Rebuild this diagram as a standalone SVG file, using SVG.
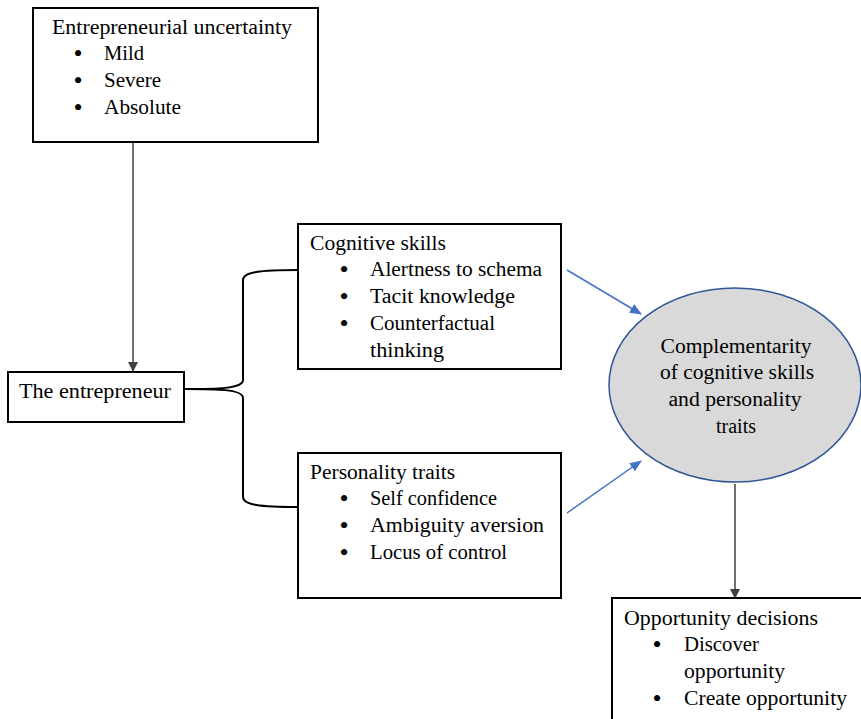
<svg xmlns="http://www.w3.org/2000/svg" width="861" height="719" viewBox="0 0 861 719">
<style>
text{font-family:"Liberation Serif","Times New Roman",serif;font-size:20px;fill:#000}
text.b{font-size:26px;text-anchor:middle}
.box{fill:#fff;stroke:#000;stroke-width:2}
.c{text-anchor:middle}
.gray{stroke:#404040;stroke-width:1.5;fill:none}
.blue{stroke:#4472c4;stroke-width:1.5;fill:none}
.brace{stroke:#000;stroke-width:2;fill:none}
</style>
<defs>
<marker id="ag" markerWidth="10" markerHeight="10" refX="9" refY="5" orient="auto" markerUnits="userSpaceOnUse"><path d="M0,0 L10,5 L0,10 z" fill="#404040"/></marker>
<marker id="ab" markerWidth="12" markerHeight="10" refX="11" refY="5" orient="auto" markerUnits="userSpaceOnUse"><path d="M0,0 L12,5 L0,10 z" fill="#4472c4"/></marker>
</defs>
<g id="connectors">
<line class="gray" x1="133" y1="143" x2="133" y2="371" marker-end="url(#ag)"/>
<path class="brace" d="M185,389 C215,389 243,389 243,380 L243,280 C243,272 260,270 298,270"/>
<path class="brace" d="M185,389 C215,389 243,389 243,398 L243,497 C243,505 260,507 298,507"/>
<line class="blue" x1="567" y1="270" x2="641" y2="314" marker-end="url(#ab)"/>
<line class="blue" x1="567" y1="513" x2="641" y2="461" marker-end="url(#ab)"/>
<line class="gray" x1="735" y1="484" x2="735" y2="598" marker-end="url(#ag)"/>
</g>
<g id="uncertainty">
<rect class="box" x="33" y="8" width="285" height="134"/>
<text x="52" y="34" textLength="240" lengthAdjust="spacingAndGlyphs">Entrepreneurial uncertainty</text>
<text class="b" x="78" y="62">•</text><text x="104" y="60" textLength="40" lengthAdjust="spacingAndGlyphs">Mild</text>
<text class="b" x="78" y="89">•</text><text x="104" y="87" textLength="57" lengthAdjust="spacingAndGlyphs">Severe</text>
<text class="b" x="78" y="116">•</text><text x="104" y="114" textLength="77" lengthAdjust="spacingAndGlyphs">Absolute</text>
</g>
<g id="entrepreneur">
<rect class="box" x="8" y="372" width="176" height="50"/>
<text x="19" y="398" textLength="152" lengthAdjust="spacingAndGlyphs">The entrepreneur</text>
</g>
<g id="cognitive">
<rect class="box" x="298" y="224" width="263" height="145"/>
<text x="310" y="250" textLength="136" lengthAdjust="spacingAndGlyphs">Cognitive skills</text>
<text class="b" x="344" y="278">•</text><text x="370" y="276" textLength="172" lengthAdjust="spacingAndGlyphs">Alertness to schema</text>
<text class="b" x="344" y="305">•</text><text x="370" y="303" textLength="145" lengthAdjust="spacingAndGlyphs">Tacit knowledge</text>
<text class="b" x="344" y="332">•</text><text x="370" y="330" textLength="125" lengthAdjust="spacingAndGlyphs">Counterfactual</text>
<text x="370" y="357" textLength="74" lengthAdjust="spacingAndGlyphs">thinking</text>
</g>
<g id="personality">
<rect class="box" x="298" y="453" width="263" height="145"/>
<text x="310" y="479" textLength="145" lengthAdjust="spacingAndGlyphs">Personality traits</text>
<text class="b" x="344" y="507">•</text><text x="370" y="505" textLength="127" lengthAdjust="spacingAndGlyphs">Self confidence</text>
<text class="b" x="344" y="534">•</text><text x="370" y="532" textLength="174" lengthAdjust="spacingAndGlyphs">Ambiguity aversion</text>
<text class="b" x="344" y="561">•</text><text x="370" y="559" textLength="137" lengthAdjust="spacingAndGlyphs">Locus of control</text>
</g>
<g id="complementarity">
<ellipse cx="735" cy="385" rx="126" ry="97" fill="#d9d9d9" stroke="#2f5597" stroke-width="1.5"/>
<text class="c" x="736" y="353" textLength="151" lengthAdjust="spacingAndGlyphs">Complementarity</text>
<text class="c" x="737" y="379" textLength="154" lengthAdjust="spacingAndGlyphs">of cognitive skills</text>
<text class="c" x="735" y="406" textLength="133" lengthAdjust="spacingAndGlyphs">and personality</text>
<text class="c" x="736" y="433" textLength="40" lengthAdjust="spacingAndGlyphs">traits</text>
</g>
<g id="opportunity">
<rect class="box" x="612" y="598" width="260" height="140"/>
<text x="624" y="625" textLength="194" lengthAdjust="spacingAndGlyphs">Opportunity decisions</text>
<text class="b" x="657" y="653">•</text><text x="684" y="651" textLength="75" lengthAdjust="spacingAndGlyphs">Discover</text>
<text x="684" y="678" textLength="101" lengthAdjust="spacingAndGlyphs">opportunity</text>
<text class="b" x="657" y="707">•</text><text x="684" y="705" textLength="163" lengthAdjust="spacingAndGlyphs">Create opportunity</text>
</g>
</svg>
